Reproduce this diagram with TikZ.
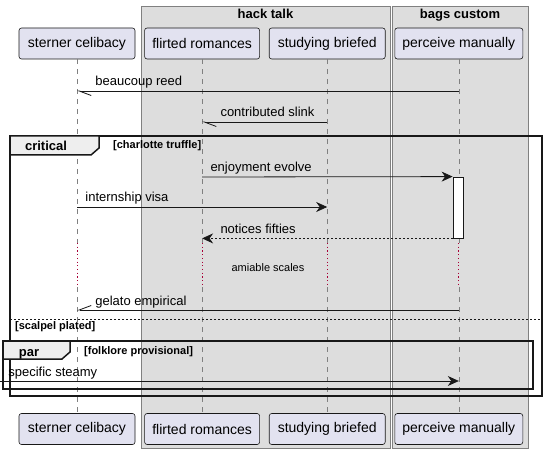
\documentclass[tikz,border=0pt]{standalone}
\usepackage{fontspec}
\setmainfont{Liberation Sans}
\usetikzlibrary{positioning, arrows.meta}
\definecolor{partfill}{HTML}{E2E2F0}
\definecolor{boxfill}{HTML}{DDDDDD}
\definecolor{tabfill}{HTML}{EEEEEE}
\definecolor{delayred}{HTML}{A80036}
\definecolor{ink}{HTML}{181818}

\begin{document}
\begin{tikzpicture}[x=1pt, y=-1pt, node distance = 9pt,
  part/.style={draw=ink, fill=partfill, rounded corners=2.5pt, line width=0.6pt, minimum height=31pt, inner xsep=0pt, font=\fontsize{14}{16}\selectfont},
  life/.style={draw=gray, line width=0.6pt, dash pattern=on 5pt off 5pt},
  pause/.style={draw=delayred, line width=0.8pt, dash pattern=on 1.2pt off 2.5pt},
  msg/.style={draw=ink, line width=0.8pt},
  fulltip/.style={-{Stealth[length=11pt, width=10pt, inset=3.5pt]}},
  halfdown/.style={-{Straight Barb[harpoon, length=12pt, width=9pt]}},
  halfup/.style={-{Straight Barb[harpoon, swap, length=12pt, width=9pt]}},
  lbl/.style={font=\fontsize{13}{15}\selectfont, anchor=base west, inner sep=0pt, yshift=5pt},
  grp/.style={draw=gray, fill=boxfill, line width=0.6pt},
  grptitle/.style={font=\bfseries\fontsize{13}{15}\selectfont, anchor=base},
  frame/.style={draw=ink, line width=1.5pt},
  tab/.style={draw=ink, fill=tabfill, line width=1.5pt},
  tabtext/.style={font=\bfseries\fontsize{13}{15}\selectfont, anchor=base},
  guard/.style={font=\bfseries\fontsize{11}{13}\selectfont, anchor=base west, inner sep=0pt},
  pausetext/.style={font=\fontsize{11}{13}\selectfont, anchor=base}]
\path[fill=white] (0,0) rectangle (548,454);
\useasboundingbox (0,0) rectangle (548,454);
\path[grp] (141,6) rectangle (390,448);
\path[grp] (392,6) rectangle (528,448);
\node[grptitle] (hack) at (265.5,19) {hack talk};
\node[grptitle] (bags) at (460,19) {bags custom};
\node[part, minimum width=116pt] (sc) at (77,43.5) {sterner celibacy};
\node[part, minimum width=115pt, right=of sc] (fr) {flirted romances};
\node[part, minimum width=116pt, right=of fr] (sb) {studying briefed};
\node[part, minimum width=128pt, right=of sb] (pm) {perceive manually};
\node[part, minimum width=116pt] (scB) at (77,429) {sterner celibacy};
\node[part, minimum width=115pt, right=of scB] (frB) {flirted romances};
\node[part, minimum width=116pt, right=of frB] (sbB) {studying briefed};
\node[part, minimum width=128pt, right=of sbB] (pmB) {perceive manually};
\coordinate (p1) at (0,243);
\coordinate (p2) at (0,287);
\draw[life] (sc) -- (sc |- p1);
\draw[pause] (sc |- p1) -- (sc |- p2);
\draw[life] (sc |- p2) -- (scB);
\draw[life] (fr) -- (fr |- p1);
\draw[pause] (fr |- p1) -- (fr |- p2);
\draw[life] (fr |- p2) -- (frB);
\draw[life] (sb) -- (sb |- p1);
\draw[pause] (sb |- p1) -- (sb |- p2);
\draw[life] (sb |- p2) -- (sbB);
\draw[life] (pm) -- (pm |- p1);
\draw[pause] (pm |- p1) -- (pm |- p2);
\draw[life] (pm |- p2) -- (pmB);
\coordinate (m1) at (0,91);
\draw[msg, halfdown] (pm |- m1) -- node[lbl, pos=1, xshift=18pt] {beaucoup reed} (sc |- m1);
\coordinate (m2) at (0,122);
\draw[msg, halfdown] (sb |- m2) -- node[lbl, pos=1, xshift=18pt] {contributed slink} (fr |- m2);
\draw[frame] (10,136) rectangle (542,396);
\draw[tab] (10,136) -- (99,136) -- (99,148) -- (91,155) -- (10,155) -- cycle;
\node[tabtext] (crit) at (46,151) {critical};
\node[guard] (critg) at (113,149) {[charlotte truffle]};
\node[draw=ink, fill=white, line width=0.8pt, minimum width=10pt, minimum height=61pt, inner sep=0pt] (act) at (458,207.5) {};
\coordinate (m3) at (0,177);
\draw[msg, fulltip] (fr |- m3) -- node[lbl, pos=0, xshift=8pt] {enjoyment evolve} (act.north west);
\coordinate (m4) at (0,207);
\draw[msg, fulltip] (sc |- m4) -- node[lbl, pos=0, xshift=8pt] {internship visa} (sb |- m4);
\draw[msg, fulltip, dash pattern=on 2pt off 2pt] (act.south west) -- node[lbl, pos=1, xshift=18pt] {notices fifties} (fr |- act.south);
\node[pausetext] (gap) at (268,271) {amiable scales};
\coordinate (m6) at (0,310);
\draw[msg, halfup] (pm |- m6) -- node[lbl, pos=1, xshift=18pt] {gelato empirical} (sc |- m6);
\draw[draw=ink, line width=0.8pt, dash pattern=on 2pt off 2pt] (10,319) -- (542,319);
\node[guard] (elseg) at (15,329) {[scalpel plated]};
\draw[frame] (3,341) rectangle (533,389);
\draw[tab] (3,341) -- (70,341) -- (70,352) -- (62,359) -- (3,359) -- cycle;
\node[tabtext] (parl) at (29,356) {par};
\node[guard] (parg) at (84,354) {[folklore provisional]};
\coordinate (lost) at (0,381);
\draw[msg, fulltip] (lost) -- node[lbl, pos=0, xshift=8pt] {specific steamy} (pm |- lost);
\end{tikzpicture}
\end{document}
